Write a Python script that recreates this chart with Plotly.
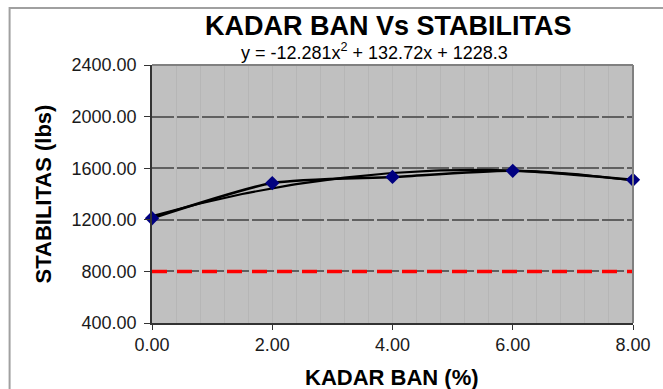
import numpy as np
import plotly.graph_objects as go

# Measured data
kadar_ban = [0.0, 2.0, 4.0, 6.0, 8.0]
stabilitas = [1212, 1485, 1532, 1580, 1510]

# Minimum stability specification
spec_x = [0.0, 8.0]
spec_y = [800, 800]

# Polynomial trendline coefficients (a x^2 + b x + c)
coef_a, coef_b, coef_c = -12.281, 132.72, 1228.3

x_ticks = [0, 2, 4, 6, 8]
y_ticks = [400, 800, 1200, 1600, 2000, 2400]

W, H = 663, 389
L, R, T, B = 152, 28, 65, 66
PW, PH = W - L - R, H - T - B


def px_x(px):
    """Pixel column -> paper x."""
    return (px - L) / PW


def px_y(py):
    """Pixel row -> paper y."""
    return (H - B - py) / PH


fig = go.Figure()

# Spec limit line
fig.add_trace(go.Scatter(
    x=spec_x, y=spec_y, mode="lines",
    line=dict(color="#ff0000", width=3.5, dash="15px,10px"),
    hoverinfo="skip", showlegend=False, cliponaxis=False))

# Trendline from fitted equation
xt = np.linspace(0, 8, 81)
yt = coef_a * xt**2 + coef_b * xt + coef_c
fig.add_trace(go.Scatter(
    x=xt, y=yt, mode="lines",
    line=dict(color="#000000", width=2.2),
    hoverinfo="skip", showlegend=False))

# Data series, smoothed line with diamond markers
fig.add_trace(go.Scatter(
    x=kadar_ban, y=stabilitas, mode="lines+markers",
    line=dict(color="#000000", width=2.6, shape="spline", smoothing=0.6),
    marker=dict(symbol="diamond", size=11, color="#000080",
                line=dict(color="#000080", width=0)),
    showlegend=False, cliponaxis=False))

font_family = "Liberation Sans, Arial, sans-serif"

fig.update_layout(
    width=W, height=H,
    margin=dict(l=L, r=R, t=T, b=B),
    paper_bgcolor="white",
    plot_bgcolor="#c0c0c0",
    font=dict(family=font_family, color="#1a1a1a", size=18),
    annotations=[
        dict(text="<b>KADAR BAN Vs STABILITAS</b>",
             xref="paper", yref="paper", x=px_x(389), y=px_y(26),
             xanchor="center", yanchor="middle", showarrow=False,
             font=dict(size=27, color="#000000")),
        dict(text="y = -12.281x<sup>2</sup> + 132.72x + 1228.3",
             xref="paper", yref="paper", x=px_x(375), y=px_y(52),
             xanchor="center", yanchor="middle", showarrow=False,
             font=dict(size=18, color="#000000")),
        dict(text="<b>KADAR BAN (%)</b>",
             xref="paper", yref="paper", x=px_x(393), y=px_y(377),
             xanchor="center", yanchor="middle", showarrow=False,
             font=dict(size=22, color="#000000")),
        dict(text="<b>STABILITAS (lbs)</b>", textangle=-90,
             xref="paper", yref="paper", x=px_x(43), y=px_y(194),
             xanchor="center", yanchor="middle", showarrow=False,
             font=dict(size=22, color="#000000")),
    ],
    shapes=[
        # outer chart frame
        dict(type="rect", xref="paper", yref="paper",
             x0=px_x(9), x1=px_x(720), y0=px_y(430), y1=px_y(8),
             line=dict(color="#a0a0a0", width=2), layer="below"),
        # grey border on the top and right of the plotting area
        dict(type="line", xref="paper", yref="paper", x0=0, x1=1, y0=1, y1=1,
             line=dict(color="#808080", width=2)),
        dict(type="line", xref="paper", yref="paper", x0=1, x1=1, y0=0, y1=1,
             line=dict(color="#808080", width=2)),
    ],
)

fig.update_xaxes(
    range=[0, 8], tickvals=x_ticks,
    ticktext=[f"{v:.2f}" for v in x_ticks],
    ticks="outside", ticklen=5, tickcolor="#333333",
    showline=True, linecolor="#333333", linewidth=1.5,
    showgrid=False,
    minor=dict(dtick=0.4, showgrid=True, gridcolor="#b6b6b6", gridwidth=1),
    tickfont=dict(size=18),
    zeroline=False)

fig.update_yaxes(
    range=[400, 2400], tickvals=y_ticks,
    ticktext=[f"{v:.2f}" for v in y_ticks],
    ticks="outside", ticklen=6, tickcolor="#333333",
    showline=True, linecolor="#333333", linewidth=1.5,
    showgrid=True, gridcolor="#606060", gridwidth=1.5, griddash="22px,3px",
    tickfont=dict(size=18), ticklabelstandoff=4,
    zeroline=False)

fig.write_html("out.html")
